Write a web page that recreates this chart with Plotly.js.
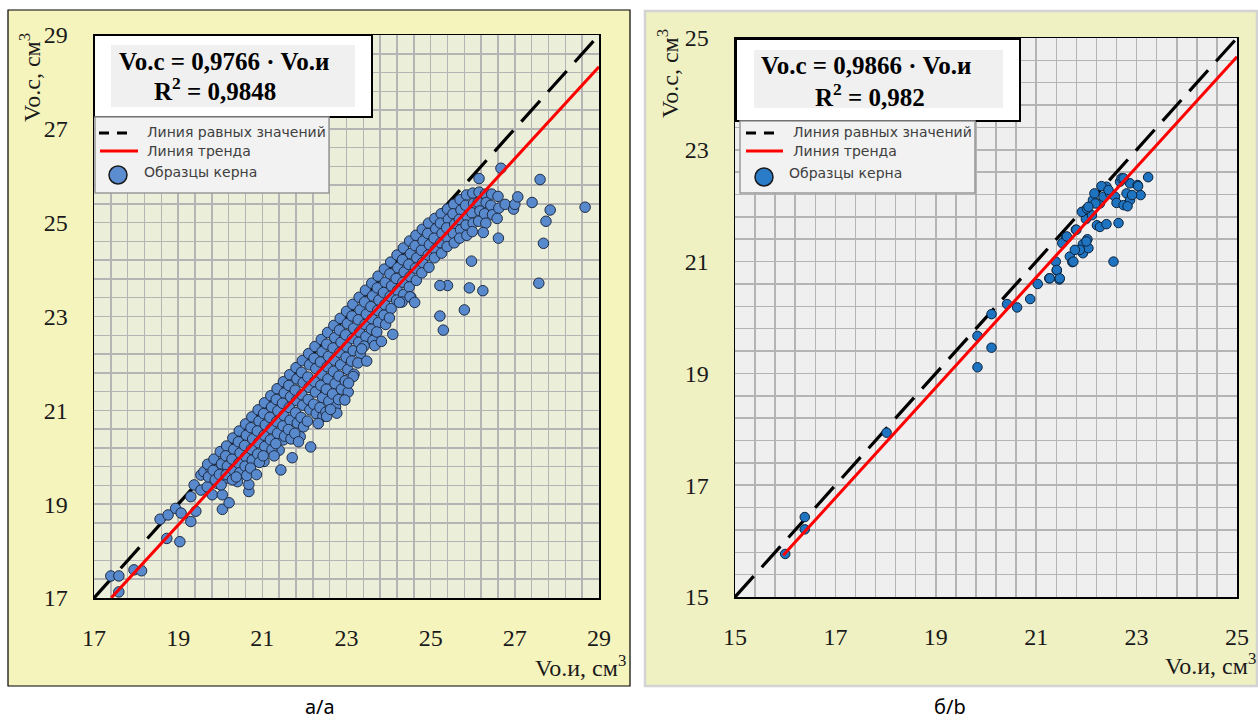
<!DOCTYPE html>
<html><head><meta charset="utf-8">
<script src="https://cdn.plot.ly/plotly-3.0.1.min.js"></script>
<style>html,body{margin:0;padding:0;background:#fff;}#chart{width:1258px;height:722px;}</style>
</head><body><div id="chart"></div>
<script>
// ---------- DATA ----------
const leftX = [
17.40,17.59,17.59,17.95,18.13,18.57,18.73,18.76,18.94,19.04,19.07,19.30,19.30,19.38,19.42,19.54,19.54,19.61,19.69,19.77,19.81,19.93,19.95,20.05,20.05,20.17,20.21,20.41,20.68,20.68,20.72,21.04,21.40,21.44,21.71,22.15,21.90,21.50,21.18,
19.70,19.72,
19.85,19.83,19.88,
20.00,20.03,19.98,20.02,
20.15,20.13,20.17,20.14,
20.30,20.32,20.28,20.31,20.29,
20.45,20.43,20.47,20.44,20.46,
20.60,20.62,20.58,20.61,20.59,20.63,
20.75,20.73,20.77,20.74,20.76,20.72,
20.90,20.92,20.88,20.91,20.89,20.93,
21.05,21.03,21.07,21.04,21.06,21.02,
21.20,21.22,21.18,21.21,21.19,21.23,
21.35,21.33,21.37,21.34,21.36,21.32,
21.50,21.52,21.48,21.51,21.49,21.53,
21.65,21.63,21.67,21.64,21.66,21.62,21.68,
21.80,21.82,21.78,21.81,21.79,21.83,21.77,
21.95,21.93,21.97,21.94,21.96,21.92,21.98,
22.10,22.12,22.08,22.11,22.09,22.13,22.07,
22.25,22.23,22.27,22.24,22.26,22.22,22.28,
22.40,22.42,22.38,22.41,22.39,22.43,22.37,22.44,
22.55,22.53,22.57,22.54,22.56,22.52,22.58,22.51,
22.70,22.72,22.68,22.71,22.69,22.73,22.67,22.74,
22.85,22.83,22.87,22.84,22.86,22.82,22.88,22.81,
23.00,23.02,22.98,23.01,22.99,23.03,22.97,23.04,
23.15,23.13,23.17,23.14,23.16,23.12,23.18,
23.30,23.32,23.28,23.31,23.29,23.33,23.27,
23.45,23.43,23.47,23.44,23.46,23.42,
23.60,23.62,23.58,23.61,23.59,23.63,
23.75,23.73,23.77,23.74,23.76,23.72,
23.90,23.92,23.88,23.91,23.89,23.93,
24.05,24.03,24.07,24.04,24.06,24.02,
24.20,24.22,24.18,24.21,24.19,
24.35,24.33,24.37,24.34,24.36,24.32,
24.50,24.52,24.48,24.51,24.49,24.53,
24.65,24.63,24.67,24.64,24.66,
24.80,24.82,24.78,24.81,24.79,
24.95,24.93,24.97,24.94,24.96,
25.10,25.12,25.08,25.11,25.09,
25.25,25.23,25.27,25.24,25.26,
25.40,25.42,25.38,25.41,25.39,
25.55,25.53,25.57,25.54,25.56,
25.70,25.72,25.68,25.71,25.69,
25.85,25.83,25.87,25.84,25.86,
26.00,26.02,25.98,26.01,25.99,
26.15,26.13,26.17,26.14,
26.30,26.32,26.28,26.31,
26.45,26.43,26.47,
26.60,26.62,26.58,
26.15,26.67,26.77,26.97,27.00,27.07,27.41,27.60,27.84,27.74,27.68,27.57,28.67,26.61,26.25,25.97,26.24,25.92,25.40,25.22,25.80,25.22,25.30,24.10,23.67,23.36,24.51,24.26,22.77,22.53,22.96,23.16,
22.33,21.86,22.62,23.05,23.48,21.28,20.86,23.83,24.62,20.38
];
const leftY = [
17.47,17.47,17.13,17.60,17.58,18.68,18.27,18.77,18.91,18.20,18.81,18.63,19.16,19.41,18.85,19.30,19.62,19.69,19.37,19.76,19.20,19.44,19.71,19.20,18.89,19.55,19.03,19.48,19.27,19.42,19.74,19.91,20.15,19.73,19.99,20.22,20.44,20.37,20.22,
19.85,19.58,
19.96,19.72,19.52,
20.12,19.86,19.63,19.41,
20.24,20.03,19.81,19.63,
20.41,20.17,19.96,19.73,19.52,
20.56,20.33,20.09,19.87,19.67,
20.71,20.47,20.25,20.01,19.81,19.61,
20.86,20.63,20.39,20.17,19.94,19.77,
21.01,20.77,20.56,20.31,20.07,19.89,
21.16,20.93,20.69,20.47,20.23,20.03,
21.31,21.07,20.85,20.61,20.37,20.16,
21.46,21.23,20.99,20.76,20.51,20.29,
21.61,21.37,21.15,20.89,20.67,20.45,
21.76,21.53,21.29,21.06,20.79,20.59,20.39,
21.91,21.67,21.43,21.21,20.95,20.73,20.51,
22.06,21.81,21.59,21.33,21.11,20.85,20.65,
22.21,21.97,21.71,21.49,21.23,21.01,20.77,
22.36,22.11,21.89,21.61,21.39,21.13,20.93,
22.51,22.25,22.03,21.77,21.53,21.27,21.06,20.87,
22.66,22.41,22.15,21.93,21.67,21.45,21.19,20.96,
22.81,22.55,22.33,22.07,21.83,21.57,21.35,21.07,
22.96,22.71,22.45,22.23,21.97,21.73,21.45,21.23,
23.11,22.85,22.61,22.35,22.13,21.87,21.63,21.39,
23.26,23.01,22.75,22.53,22.27,22.05,21.77,
23.41,23.14,22.93,22.67,22.45,22.21,22.01,
23.56,23.31,23.05,22.83,22.57,22.37,
23.71,23.44,23.21,22.95,22.73,22.49,
23.86,23.61,23.35,23.13,22.87,22.67,
24.01,23.73,23.51,23.25,23.03,22.83,
24.16,23.91,23.65,23.43,23.17,22.97,
24.31,24.04,23.81,23.55,23.35,
24.46,24.21,23.95,23.73,23.47,23.31,
24.61,24.34,24.11,23.85,23.63,23.41,
24.73,24.51,24.25,24.03,23.77,
24.86,24.61,24.41,24.15,23.93,
24.99,24.77,24.53,24.31,24.05,
25.09,24.87,24.67,24.43,24.25,
25.19,24.99,24.77,24.57,24.35,
25.29,25.07,24.89,24.65,24.49,
25.39,25.19,24.97,24.77,24.57,
25.49,25.27,25.07,24.85,24.67,
25.59,25.37,25.13,24.95,24.73,
25.63,25.41,25.21,24.99,24.81,
25.65,25.43,25.25,25.03,
25.61,25.43,25.19,24.99,
25.61,25.37,25.17,
25.56,25.31,25.09,
25.94,26.16,25.39,25.29,25.39,25.55,25.43,25.92,25.27,25.03,24.56,23.71,25.33,24.67,24.79,24.18,23.55,23.61,23.66,23.66,23.14,23.01,22.71,22.62,22.38,22.31,23.42,23.30,20.94,20.87,21.22,21.72,
20.72,20.33,21.02,21.58,22.05,20.03,19.63,22.47,23.30,19.58
];
const rightX = [16.00,16.39,16.39,18.02,19.83,19.83,20.11,20.11,20.42,20.62,20.88,21.03,21.26,21.46,21.41,21.39,21.59,21.52,21.67,21.72,21.79,21.93,21.93,22.04,21.87,22.02,22.54,21.99,22.11,22.21,22.27,22.40,22.64,21.91,22.01,22.13,22.16,22.27,22.34,22.40,22.30,22.47,22.57,22.60,22.74,22.80,22.87,22.67,22.70,22.87,23.02,23.08,22.91,23.23,22.82,23.03,22.44,22.74,22.18,22.04,21.80,21.61,21.77,22.00,21.74,21.41,21.47,21.27];
const rightY = [15.77,16.43,16.21,17.94,19.67,19.11,19.46,20.06,20.24,20.18,20.33,20.60,20.70,20.68,20.84,21.00,21.43,21.33,21.09,20.99,21.57,21.31,21.15,21.24,21.21,21.40,21.00,21.76,21.83,21.65,21.62,21.67,21.69,21.89,21.95,22.10,22.22,22.04,22.16,22.34,22.35,22.22,22.16,22.05,22.01,22.22,22.10,22.43,22.49,22.40,22.37,22.19,22.19,22.51,21.99,22.35,22.28,22.49,22.04,21.98,21.57,21.45,21.21,21.36,21.00,20.85,20.70,20.70];

const leftSlope = 0.9766;
const rightSlope = 0.9866;
const leftTrendX = [17.41, 29];
const rightTrendX = [15.96, 25];
const leftEqualX = [17, 29];
const rightEqualX = [15, 25];
const leftEqText = ['Vo.c = 0,9766 · Vo.и', 'R<sup>2</sup> = 0,9848'];
const rightEqText = ['Vo.c = 0,9866 · Vo.и', 'R<sup>2</sup> = 0,982'];
const legendLabels = ['Линия равных значений', 'Линия тренда', 'Образцы керна'];
const yTitle = 'Vo.c, см<sup>3</sup>';
const xTitle = 'Vo.и, см<sup>3</sup>';
const captions = ['а/а', 'б/b'];

// ---------- LAYOUT HELPERS ----------
const W = 1258, H = 722;
const fx = p => p / W;
const fy = p => 1 - p / H;
const serif = 'Liberation Serif, Times New Roman, serif';
const sans = 'DejaVu Sans, Verdana, sans-serif';
const gridC = '#b4b4b4';

function axis(dom, range, t0, standoff, anchor) {
  return {
    domain: dom, range: range, anchor: anchor, tick0: t0, dtick: 2,
    showgrid: true, gridcolor: gridC, gridwidth: 1.5,
    minor: {tick0: t0, dtick: 0.4, showgrid: true, gridcolor: gridC, gridwidth: 1.5, ticks: ''},
    showline: true, linecolor: '#000', linewidth: 1.5, mirror: true,
    zeroline: false, ticks: '', ticklabelstandoff: standoff,
    tickfont: {family: serif, size: 24, color: '#1a1a1a'}, fixedrange: true
  };
}

const eqLine = {color: '#000', width: 3.2, dash: '28px,12px'};
const trendLine = {color: '#ff0000', width: 3};

const traces = [
  {x: leftEqualX, y: leftEqualX, mode: 'lines', line: eqLine, xaxis: 'x', yaxis: 'y', hoverinfo: 'skip'},
  {x: leftX, y: leftY, mode: 'markers', xaxis: 'x', yaxis: 'y', cliponaxis: true,
   marker: {size: 10.5, color: '#5889cc', line: {color: '#1f2c44', width: 1}}},
  {x: leftTrendX, y: leftTrendX.map(v => v * leftSlope), mode: 'lines', line: trendLine, xaxis: 'x', yaxis: 'y'},
  {x: rightEqualX, y: rightEqualX, mode: 'lines', line: eqLine, xaxis: 'x2', yaxis: 'y2'},
  {x: rightX, y: rightY, mode: 'markers', xaxis: 'x2', yaxis: 'y2',
   marker: {size: 9.5, color: '#1f74c2', line: {color: '#0b2139', width: 1}}},
  {x: rightTrendX, y: rightTrendX.map(v => v * rightSlope), mode: 'lines', line: trendLine, xaxis: 'x2', yaxis: 'y2'}
];

function rect(x0, y0, x1, y1, fill, lc, lw, layer) {
  return {type: 'rect', xref: 'paper', yref: 'paper', x0: fx(x0), x1: fx(x1), y0: fy(y1), y1: fy(y0),
    fillcolor: fill, line: {color: lc, width: lw}, layer: layer};
}
function hline(x0, x1, y, color, dash) {
  return {type: 'line', xref: 'paper', yref: 'paper', x0: fx(x0), x1: fx(x1), y0: fy(y), y1: fy(y),
    line: {color: color, width: 3, dash: dash}, layer: 'above'};
}
function circ(cx, cy, r, fill) {
  return {type: 'circle', xref: 'paper', yref: 'paper', x0: fx(cx - r), x1: fx(cx + r), y0: fy(cy + r), y1: fy(cy - r),
    fillcolor: fill, line: {color: '#1a1a1a', width: 1.5}, layer: 'above'};
}

const shapes = [
  rect(8, 10, 630, 686, '#f6f4bd', '#000', 1.2, 'below'),
  rect(645, 11, 1257, 686, '#eff1c3', '#d3d3d3', 2.5, 'below'),
  rect(94, 35, 599, 598, '#ebeed9', 'rgba(0,0,0,0)', 0, 'below'),
  rect(735, 38, 1237, 597, '#efefef', 'rgba(0,0,0,0)', 0, 'below'),
  // left equation + legend
  rect(94, 35, 372, 117, '#ffffff', '#000', 2, 'above'),
  rect(111, 45, 355, 107, '#f0f0f0', 'rgba(0,0,0,0)', 0, 'above'),
  rect(95, 117, 329, 193, '#f2f2f2', '#999', 1.5, 'above'),
  hline(99, 133, 133, '#000', '10px,8px'),
  hline(100, 138, 151, '#ff0000', 'solid'),
  circ(118, 175, 9, '#5b8dd0'),
  // right equation + legend
  rect(736, 39, 1020, 121, '#ffffff', '#000', 2, 'above'),
  rect(754, 50, 1003, 108, '#f0f0f0', 'rgba(0,0,0,0)', 0, 'above'),
  rect(740, 121, 975, 193, '#f2f2f2', '#999', 1.5, 'above'),
  hline(746, 777, 133, '#000', '10px,8px'),
  hline(746, 783, 151, '#ff0000', 'solid'),
  circ(764, 177, 9, '#2a7bc8')
];

function ann(text, x, y, font, xanchor, extra) {
  return Object.assign({text: text, xref: 'paper', yref: 'paper', x: fx(x), y: fy(y), showarrow: false,
    xanchor: xanchor || 'center', yanchor: 'middle', font: font}, extra || {});
}
const eqFont = {family: serif, size: 25, color: '#000'};
const legFont = {family: sans, size: 14, color: '#404040'};
const titleFont = {family: serif, size: 24, color: '#1a1a1a'};
const capFont = {family: 'Noto Sans, Open Sans, sans-serif', size: 20, color: '#000'};

const annotations = [
  ann('<b>' + leftEqText[0] + '</b>', 224, 62, eqFont),
  ann('<b>' + leftEqText[1] + '</b>', 215, 89, eqFont),
  ann('<b>' + rightEqText[0] + '</b>', 866, 65, eqFont),
  ann('<b>' + rightEqText[1] + '</b>', 870, 95, eqFont),
  ann(legendLabels[0], 145, 132, legFont, 'left'),
  ann(legendLabels[1], 145, 151, legFont, 'left'),
  ann(legendLabels[2], 142, 172, legFont, 'left'),
  ann(legendLabels[0], 791, 132, legFont, 'left'),
  ann(legendLabels[1], 791, 151, legFont, 'left'),
  ann(legendLabels[2], 787, 173, legFont, 'left'),
  ann(yTitle, 30, 78, titleFont, 'center', {textangle: -90}),
  ann(yTitle, 668, 74, titleFont, 'center', {textangle: -90}),
  ann(xTitle, 628, 666, titleFont, 'right'),
  ann(xTitle, 1258, 664, titleFont, 'right'),
  ann(captions[0], 320, 706, capFont),
  ann(captions[1], 950, 706, capFont)
];

const layout = {
  width: W, height: H, margin: {l: 0, r: 0, t: 0, b: 0},
  paper_bgcolor: '#ffffff', plot_bgcolor: 'rgba(0,0,0,0)', showlegend: false,
  xaxis: axis([fx(94), fx(599)], [17, 29], 17, 18, 'y'),
  yaxis: axis([fy(598), fy(35)], [17, 29], 17, 20, 'x'),
  xaxis2: axis([fx(735), fx(1237)], [15, 25], 15, 18, 'y2'),
  yaxis2: axis([fy(597), fy(38)], [15, 25], 15, 20, 'x2'),
  shapes: shapes, annotations: annotations
};

Plotly.newPlot('chart', traces, layout, {staticPlot: true, displayModeBar: false});
</script></body></html>
